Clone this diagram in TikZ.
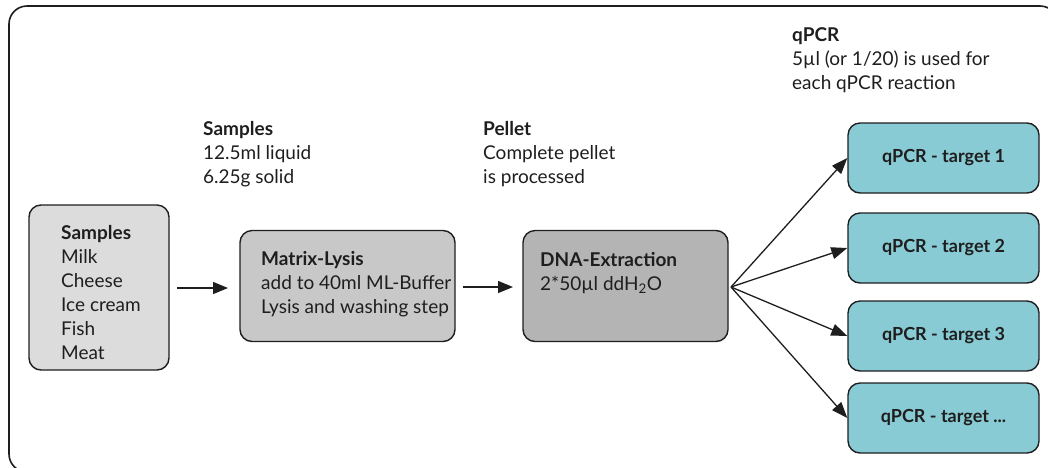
\documentclass[tikz,border=0pt]{standalone}
\usepackage{fontspec}
\setmainfont{Lato}
\usetikzlibrary{arrows.meta}
\definecolor{boxA}{HTML}{DCDCDC}
\definecolor{boxB}{HTML}{C8C8C8}
\definecolor{boxC}{HTML}{B4B4B4}
\definecolor{pcr}{HTML}{88CBD5}
\definecolor{ink}{HTML}{1E1E1E}
\tikzset{
  stage/.style={draw=ink, line width=1.4pt, rounded corners=12pt},
  flow/.style={line width=1.5pt, ink, -{Triangle[length=15pt,width=12pt]}},
  fan/.style={line width=1.3pt, ink, -{Triangle[length=16pt,width=12pt]}},
  pcrbox/.style={draw=ink, line width=1.4pt, rounded corners=12pt, fill=pcr,
    minimum width=191pt, minimum height=70pt, inner sep=0pt, text=ink,
    font=\fontsize{18}{20}\selectfont\bfseries},
  txt/.style={anchor=base west, inner sep=0pt, text=ink, font=\fontsize{19}{24}\selectfont},
  hd/.style={txt, font=\fontsize{19}{24}\selectfont\bfseries},
}
\begin{document}
\begin{tikzpicture}[x=1pt, y=-1pt]
\useasboundingbox (0,0) rectangle (1048,467);
\begin{scope}
\clip (0,0) rectangle (1048,467);
% outer frame
\draw[line width=1.6pt, ink, rounded corners=18pt] (9,6) rectangle (1058,472);
\end{scope}

% stage boxes
\node[stage, fill=boxA, minimum width=140pt, minimum height=165pt, inner sep=0pt]
  (samp) at (99,287.5) {};
\node[stage, fill=boxB, minimum width=215pt, minimum height=111pt, inner sep=0pt]
  (lysis) at (347.5,286) {};
\node[stage, fill=boxC, minimum width=205pt, minimum height=111pt, inner sep=0pt]
  (dna) at (625.5,286) {};

% text inside the sample box
\node[hd]  (sT) at (61,239) {Samples};
\node[txt] (s1) at (61,263) {Milk};
\node[txt] (s2) at (61,287) {Cheese};
\node[txt] (s3) at (61,311) {Ice cream};
\node[txt] (s4) at (61,335) {Fish};
\node[txt] (s5) at (61,359) {Meat};

% text inside the lysis box
\node[hd]  (lT) at (261,265) {Matrix-Lysis};
\node[txt] (l1) at (261,289) {add to 40ml ML-Buffer};
\node[txt] (l2) at (261,313) {Lysis and washing step};

% text inside the extraction box
\node[hd]  (dT) at (540,266) {DNA-Extraction};
\node[txt] (d1) at (540,290) {2*50µl ddH\textsubscript{2}O};

% annotations above the boxes
\node[hd]  (aS) at (203,135) {Samples};
\node[txt] (aS1) at (203,159) {12.5ml liquid};
\node[txt] (aS2) at (203,183) {6.25g solid};

\node[hd]  (aP) at (483,135) {Pellet};
\node[txt] (aP1) at (483,159) {Complete pellet};
\node[txt] (aP2) at (483,183) {is processed};

\node[hd]  (aQ) at (792,41) {qPCR};
\node[txt] (aQ1) at (792,65) {5µl (or 1/20) is used for};
\node[txt] (aQ2) at (792,89) {each qPCR reaction};

% qPCR reaction boxes
\node[pcrbox] (q1) at (943.5,158) {qPCR - target 1};
\node[pcrbox] (q2) at (943.5,248) {qPCR - target 2};
\node[pcrbox] (q3) at (943.5,336) {qPCR - target 3};
\node[pcrbox] (q4) at (943.5,418) {qPCR - target ...};

% connectors
\coordinate (a1s) at (177,288);
\coordinate (a1e) at (228,288);
\draw[flow] (a1s) -- (a1e);
\coordinate (a2s) at (463,287);
\coordinate (a2e) at (513,287);
\draw[flow] (a2s) -- (a2e);

\coordinate (hub) at (731,287);
\draw[fan] (hub) -- (q1.west);
\draw[fan] (hub) -- (q2.west);
\draw[fan] (hub) -- (q3.west);
\draw[fan] (hub) -- (q4.west);
\end{tikzpicture}
\end{document}
